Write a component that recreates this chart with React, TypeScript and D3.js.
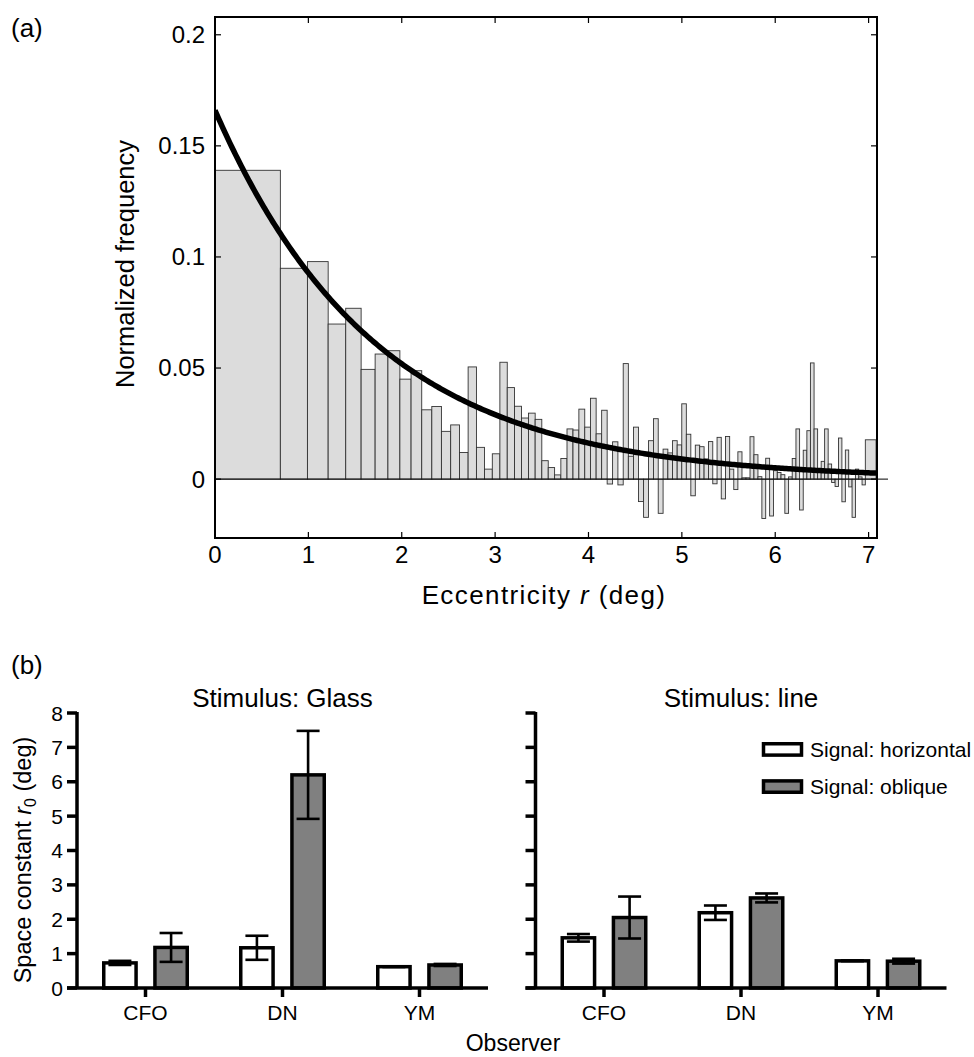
import React from 'react';
import * as d3 from 'd3';

// ---- Panel (a): equal-area eccentricity histogram ----
const binEdges = [
  0, 0.700, 0.990, 1.212, 1.400, 1.565, 1.715, 1.852, 1.980, 2.100,
  2.214, 2.322, 2.425, 2.524, 2.619, 2.711, 2.800, 2.886, 2.970, 3.051,
  3.130, 3.208, 3.283, 3.357, 3.429, 3.500, 3.569, 3.637, 3.704, 3.770,
  3.834, 3.897, 3.960, 4.021, 4.082, 4.141, 4.200, 4.258, 4.315, 4.372,
  4.427, 4.482, 4.536, 4.590, 4.643, 4.696, 4.747, 4.799, 4.850, 4.900,
  4.950, 4.999, 5.048, 5.096, 5.144, 5.191, 5.238, 5.285, 5.331, 5.377,
  5.422, 5.467, 5.512, 5.556, 5.600, 5.644, 5.687, 5.730, 5.772, 5.815,
  5.857, 5.898, 5.940, 5.981, 6.022, 6.062, 6.103, 6.143, 6.182, 6.222,
  6.261, 6.300, 6.339, 6.377, 6.416, 6.454, 6.492, 6.529, 6.567, 6.604,
  6.641, 6.678, 6.714, 6.751, 6.787, 6.823, 6.859, 6.894, 6.930, 6.965,
  7.080,
];

const binFrequency = [
  0.1390, 0.0949, 0.0979, 0.0698, 0.0769, 0.0494, 0.0563, 0.0578, 0.0450, 0.0488,
  0.0312, 0.0327, 0.0215, 0.0244, 0.0120, 0.0505, 0.0143, 0.0045, 0.0114, 0.0526,
  0.0412, 0.0328, 0.0275, 0.0297, 0.0269, 0.0083, 0.0052, 0.0019, 0.0093, 0.0226,
  0.0221, 0.0315, 0.0234, 0.0364, 0.0204, 0.0310, -0.0022, 0.0168, -0.0026, 0.0520,
  0.0103, 0.0234, -0.0101, -0.0172, 0.0173, 0.0272, -0.0154, 0.0135, 0.0118, 0.0173,
  0.0154, 0.0339, 0.0202, -0.0075, 0.0153, 0.0146, 0.0091, 0.0169, -0.0021, 0.0188,
  -0.0089, 0.0192, 0.0045, -0.0047, 0.0123, 0.0006, 0.0006, 0.0191, 0.0110, 0.0011,
  -0.0177, 0.0094, -0.0166, 0.0038, 0.0030, 0.0020, -0.0154, 0.0010, 0.0093, 0.0226,
  -0.0139, 0.0130, 0.0218, 0.0523, 0.0226, 0.0044, 0.0080, 0.0226, 0.0068, -0.0015,
  -0.0033, 0.0185, -0.0102, 0.0131, -0.0035, -0.0172, 0.0045, 0.0010, -0.0026, 0.0177,
];

// exponential fit: A * exp(-r / r0)
const fitAmplitude = 0.166;
const fitSpaceConstant = 1.72;

const eccTicks = [0, 1, 2, 3, 4, 5, 6, 7];
const freqTicks = [0, 0.05, 0.1, 0.15, 0.2];
const freqTickLabels = ['0', '0.05', '0.1', '0.15', '0.2'];

// ---- Panel (b): space constants per observer ----
const observers = ['CFO', 'DN', 'YM'];
const signals = ['horizontal', 'oblique'];
const signalLabels = ['Signal: horizontal', 'Signal: oblique'];
const signalFills = ['#ffffff', '#808080'];

const glassHorizontal = [0.73, 1.17, 0.62];
const glassHorizontalErr = [0.06, 0.35, 0.01];
const glassOblique = [1.18, 6.2, 0.67];
const glassObliqueErr = [0.42, 1.28, 0.03];

const lineHorizontal = [1.46, 2.19, 0.79];
const lineHorizontalErr = [0.11, 0.21, 0.01];
const lineOblique = [2.05, 2.62, 0.78];
const lineObliqueErr = [0.61, 0.13, 0.07];

const spaceTicks = [0, 1, 2, 3, 4, 5, 6, 7, 8];

const FONT = '"Liberation Sans", Arial, Helvetica, sans-serif';

function Histogram() {
  const x = d3.scaleLinear().domain([0, 7.09]).range([215, 877]);
  const y = d3.scaleLinear().domain([-0.0265, 0.208]).range([538, 17]);
  const left = x.range()[0];
  const right = x.range()[1];
  const top = y.range()[1];
  const bottom = y.range()[0];

  const bars = binFrequency.map((v, i) => ({ x0: binEdges[i], x1: binEdges[i + 1], v }));

  const fitR = d3.range(0, 7.09, 0.02);
  const fitLine = d3
    .line<number>()
    .x((r) => x(r))
    .y((r) => y(fitAmplitude * Math.exp(-r / fitSpaceConstant)))
    .curve(d3.curveLinear);

  return (
    <g>
      <defs>
        <clipPath id="histClip">
          <rect x={left} y={top} width={right - left} height={bottom - top} />
        </clipPath>
      </defs>
      {bars.map((b, i) => {
        const y0 = y(0);
        const yv = y(b.v);
        return (
          <rect
            key={i}
            x={x(b.x0)}
            y={Math.min(y0, yv)}
            width={x(b.x1) - x(b.x0)}
            height={Math.abs(yv - y0)}
            fill="#dcdcdc"
            stroke="#333"
            strokeWidth={0.9}
          />
        );
      })}
      <line x1={left} x2={888} y1={y(0)} y2={y(0)} stroke="#000" strokeWidth={1} />
      <path
        d={fitLine(fitR) || ''}
        fill="none"
        stroke="#000"
        strokeWidth={5.5}
        clipPath="url(#histClip)"
      />
      {/* box */}
      <rect x={left} y={top} width={right - left} height={bottom - top} fill="none" stroke="#000" strokeWidth={2} />
      {eccTicks.map((t) => (
        <g key={'xt' + t}>
          <line x1={x(t)} x2={x(t)} y1={bottom} y2={bottom - 6} stroke="#000" strokeWidth={1.2} />
          <line x1={x(t)} x2={x(t)} y1={top} y2={top + 6} stroke="#000" strokeWidth={1.2} />
          <text x={x(t)} y={563} textAnchor="middle" fontSize={24} fontFamily={FONT}>
            {t}
          </text>
        </g>
      ))}
      {freqTicks.map((t, i) => (
        <g key={'yt' + t}>
          <line x1={left} x2={left + 6} y1={y(t)} y2={y(t)} stroke="#000" strokeWidth={1.2} />
          <line x1={right} x2={right - 6} y1={y(t)} y2={y(t)} stroke="#000" strokeWidth={1.2} />
          <text x={205} y={y(t)} dy="0.35em" textAnchor="end" fontSize={24} fontFamily={FONT}>
            {freqTickLabels[i]}
          </text>
        </g>
      ))}
      <text x={544} y={604} textAnchor="middle" fontSize={26} letterSpacing={1.4} fontFamily={FONT}>
        Eccentricity <tspan fontStyle="italic">r</tspan> (deg)
      </text>
      <text
        transform={`translate(134, ${264}) rotate(-90)`}
        textAnchor="middle"
        fontSize={25.5}
        fontFamily={FONT}
      >
        Normalized frequency
      </text>
      <text x={11} y={37} fontSize={26} fontFamily={FONT}>
        (a)
      </text>
    </g>
  );
}

type PanelProps = {
  range: [number, number];
  title: string;
  horizontal: number[];
  horizontalErr: number[];
  oblique: number[];
  obliqueErr: number[];
  showTickLabels: boolean;
};

function BarPanel({ range, title, horizontal, horizontalErr, oblique, obliqueErr, showTickLabels }: PanelProps) {
  const x = d3.scaleBand<string>().domain(observers).range(range).padding(0);
  const inner = d3.scaleBand<string>().domain(signals).range([25, 112]).paddingInner(0.3);
  const y = d3.scaleLinear().domain([0, 8]).range([988, 713]);
  const sw = 3.5;
  const values = [horizontal, oblique];
  const errs = [horizontalErr, obliqueErr];
  const bw = inner.bandwidth();
  const axisX = range[0];

  return (
    <g>
      <text x={(range[0] + range[1]) / 2} y={707} textAnchor="middle" fontSize={26} fontFamily={FONT}>
        {title}
      </text>
      {observers.map((obs, oi) =>
        signals.map((sig, si) => {
          const v = values[si][oi];
          const e = errs[si][oi];
          const bx = (x(obs) as number) + (inner(sig) as number);
          const cx = bx + bw / 2;
          return (
            <g key={obs + sig}>
              <rect
                x={bx + sw / 2}
                y={y(v)}
                width={bw - sw}
                height={y(0) - y(v)}
                fill={signalFills[si]}
                stroke="#000"
                strokeWidth={sw}
              />
              <line x1={cx} x2={cx} y1={y(v + e)} y2={y(v - e)} stroke="#000" strokeWidth={2.6} />
              <line x1={cx - 11.5} x2={cx + 11.5} y1={y(v + e)} y2={y(v + e)} stroke="#000" strokeWidth={2.6} />
              <line x1={cx - 11.5} x2={cx + 11.5} y1={y(v - e)} y2={y(v - e)} stroke="#000" strokeWidth={2.6} />
            </g>
          );
        })
      )}
      {/* axes */}
      <line x1={axisX} x2={axisX} y1={y(8) - 1} y2={y(0)} stroke="#000" strokeWidth={sw} />
      <line x1={axisX - 10} x2={range[1]} y1={y(0)} y2={y(0)} stroke="#000" strokeWidth={sw} />
      {spaceTicks.map((t) => (
        <g key={'t' + t}>
          <line x1={axisX - 10} x2={axisX} y1={y(t)} y2={y(t)} stroke="#000" strokeWidth={sw} />
          {showTickLabels && (
            <text x={axisX - 14} y={y(t)} dy="0.36em" textAnchor="end" fontSize={21} fontFamily={FONT}>
              {t}
            </text>
          )}
        </g>
      ))}
      {observers.map((obs) => {
        const cx = (x(obs) as number) + x.bandwidth() / 2;
        return (
          <g key={'o' + obs}>
            <line x1={cx} x2={cx} y1={y(0)} y2={y(0) + 9} stroke="#000" strokeWidth={sw} />
            <text x={cx} y={1020} textAnchor="middle" fontSize={21} fontFamily={FONT}>
              {obs}
            </text>
          </g>
        );
      })}
    </g>
  );
}

function Legend() {
  const rowY = d3.scaleBand<string>().domain(signals).range([742, 794]).paddingInner(0.6);
  return (
    <g>
      {signals.map((s, i) => {
        const ry = rowY(s) as number;
        return (
          <g key={s}>
            <rect
              x={763.5}
              y={ry + 1.75}
              width={38}
              height={rowY.bandwidth() - 3.5}
              fill={signalFills[i]}
              stroke="#000"
              strokeWidth={3.5}
            />
            <text x={810} y={ry + rowY.bandwidth() / 2} dy="0.36em" fontSize={21} fontFamily={FONT}>
              {signalLabels[i]}
            </text>
          </g>
        );
      })}
    </g>
  );
}

export default function App() {
  return (
    <div style={{ position: 'absolute', left: 0, top: 0 }}>
      <svg width={974} height={1057} viewBox="0 0 974 1057" style={{ display: 'block', background: '#fff' }}>
        <rect x={0} y={0} width={974} height={1057} fill="#fff" />
        <Histogram />
        <text x={11} y={674} fontSize={26} fontFamily={FONT}>
          (b)
        </text>
        <BarPanel
          range={[77, 488]}
          title="Stimulus: Glass"
          horizontal={glassHorizontal}
          horizontalErr={glassHorizontalErr}
          oblique={glassOblique}
          obliqueErr={glassObliqueErr}
          showTickLabels={true}
        />
        <BarPanel
          range={[535.5, 946.5]}
          title="Stimulus: line"
          horizontal={lineHorizontal}
          horizontalErr={lineHorizontalErr}
          oblique={lineOblique}
          obliqueErr={lineObliqueErr}
          showTickLabels={false}
        />
        <Legend />
        <text
          transform="translate(31, 860) rotate(-90)"
          textAnchor="middle"
          fontSize={23.5}
          fontFamily={FONT}
        >
          Space constant <tspan fontStyle="italic">r</tspan>
          <tspan fontSize={16} dy={5}>0</tspan>
          <tspan dy={-5}> (deg)</tspan>
        </text>
        <text x={513} y={1051} textAnchor="middle" fontSize={23} fontFamily={FONT}>
          Observer
        </text>
      </svg>
    </div>
  );
}
